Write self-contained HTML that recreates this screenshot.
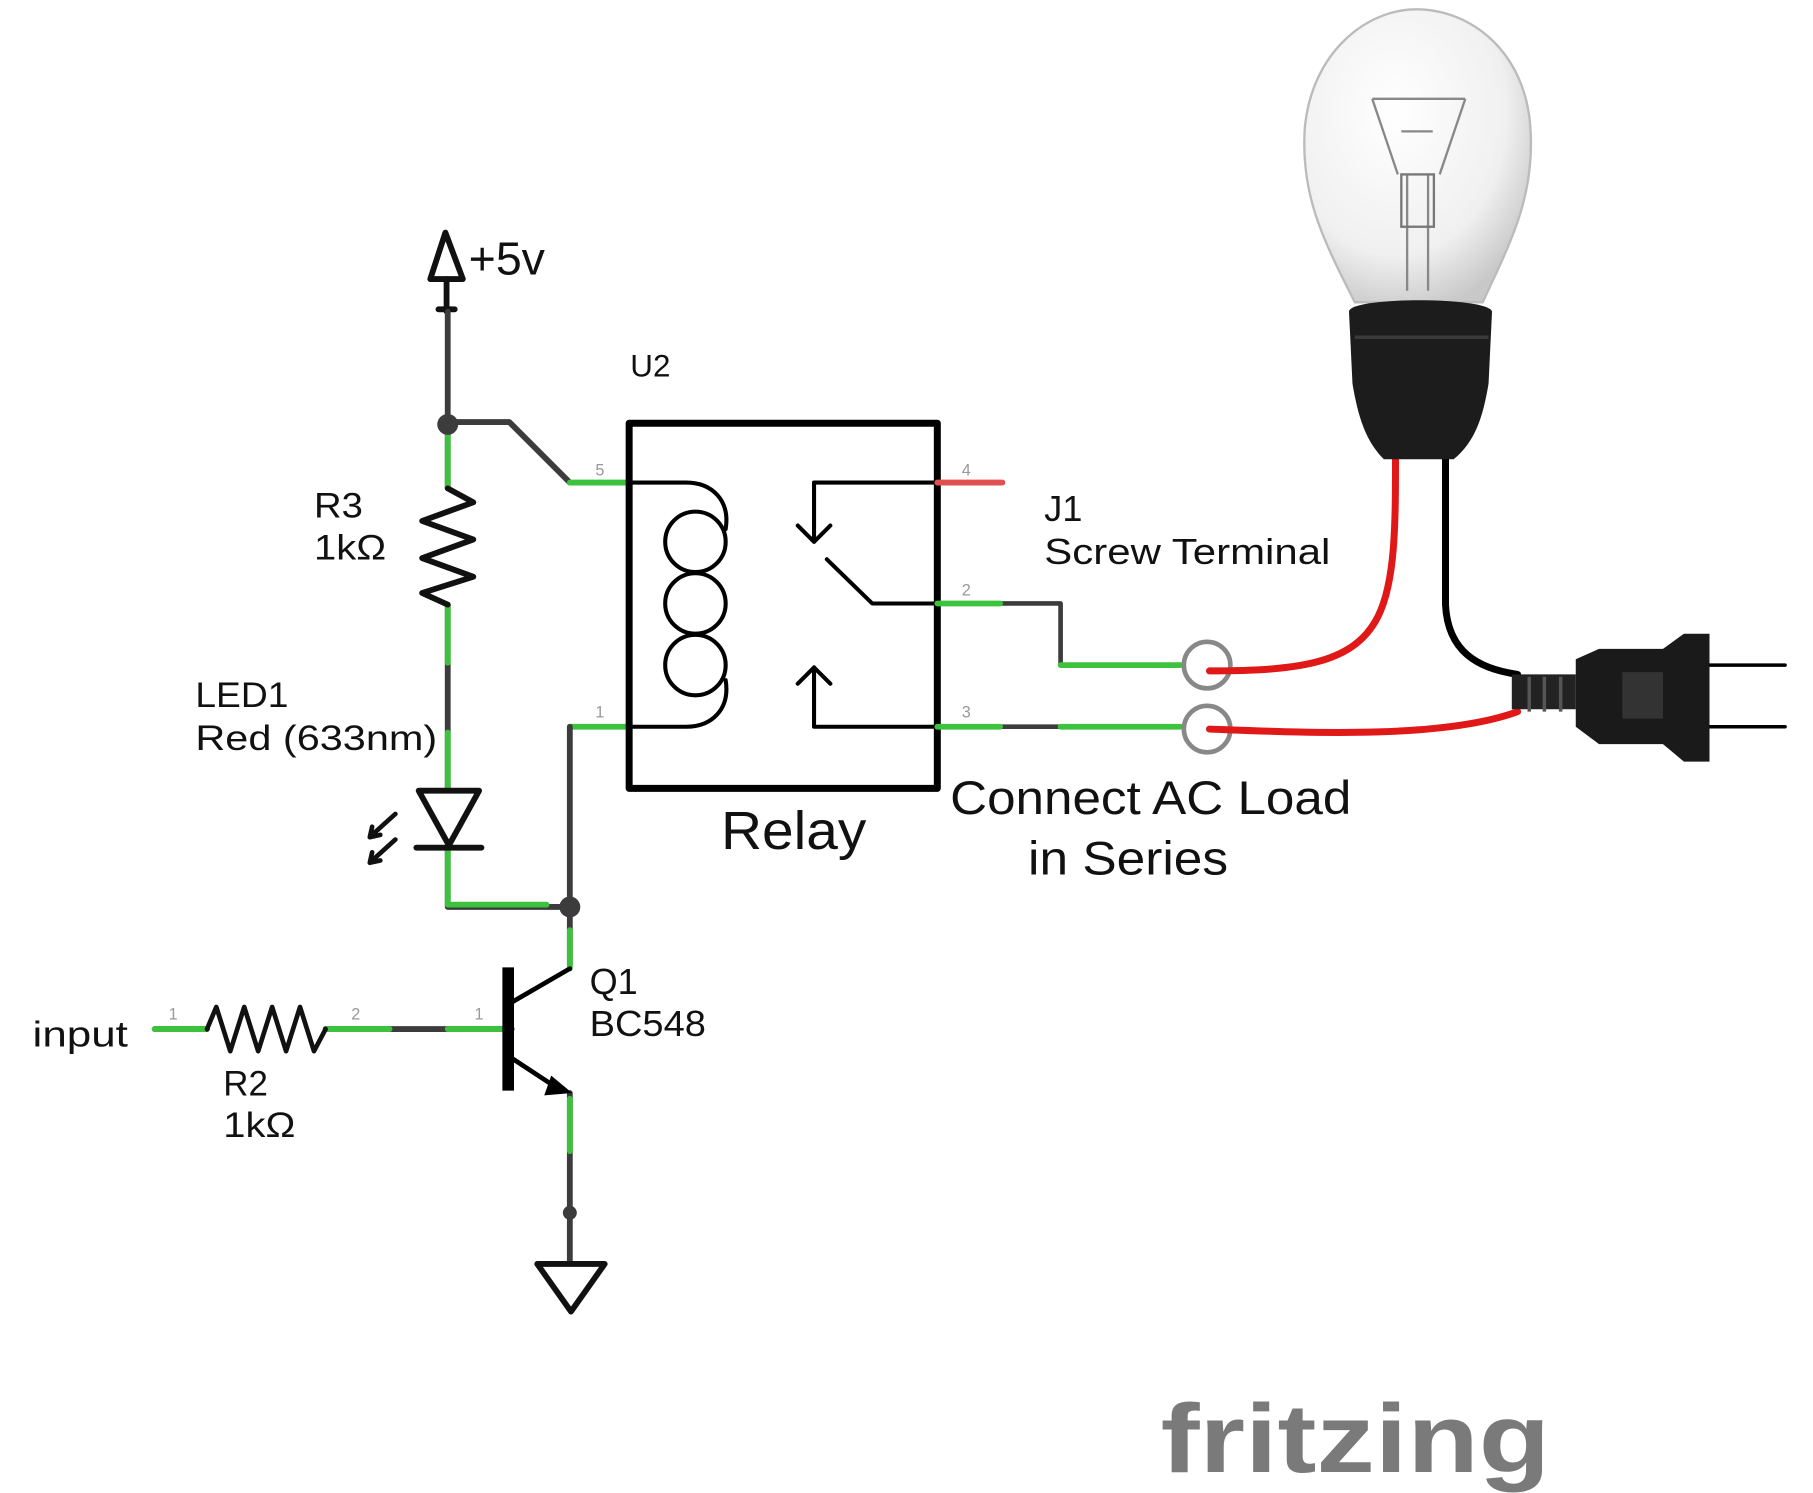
<!DOCTYPE html>
<html><head><meta charset="utf-8"><style>
html,body{margin:0;padding:0;background:#fff;width:1813px;height:1493px;overflow:hidden}
svg{display:block}
text{font-family:"Liberation Sans","DejaVu Sans",sans-serif;fill:#111}
</style></head><body>
<svg width="1813" height="1493" viewBox="0 0 1559 1284" preserveAspectRatio="none" xmlns="http://www.w3.org/2000/svg">
<defs>
<radialGradient id="glass" cx="0.4" cy="0.35" r="0.7"><stop offset="0" stop-color="#ffffff"/><stop offset="0.7" stop-color="#f0f0f0"/><stop offset="1" stop-color="#c8c8c8"/></radialGradient>
</defs>
<g fill="none" stroke-linecap="round" stroke-linejoin="round">
<path d="M383,200 L370,240 L398,240 Z" stroke="#111" stroke-width="5"/>
<path d="M384,240 V268 M377,266 H391" stroke="#111" stroke-width="5"/>
<path d="M385,268 V365 M385,363 H438 L490,415" stroke="#3c3c3c" stroke-width="5"/>
<path d="M385,368 V420 M385,520 V680 M385,728 V780 H490" stroke="#3c3c3c" stroke-width="5"/>
<path d="M385,368 V420 M385,520 V570 M385,630 V678 M385,732 V778 H470" stroke="#3cc23c" stroke-width="5"/>
<path d="M385,420 L407,432 L363,448 L407,464 L363,480 L407,496 L363,510 L385,520" stroke="#111" stroke-width="5"/>
<path d="M360,680 H412 L386,727 Z" stroke="#111" stroke-width="5"/>
<path d="M358,729 H414" stroke="#111" stroke-width="5"/>
<path d="M340,700 L320,718 M318,720 l2,-9 M318,720 l9,-2 M340,722 L320,740 M318,742 l2,-9 M318,742 l9,-2" stroke="#111" stroke-width="4"/>
<path d="M490,415 H540" stroke="#3cc23c" stroke-width="5"/>
<path d="M490,625 H540" stroke="#3cc23c" stroke-width="5"/>
<path d="M490,625 V780 V830" stroke="#3c3c3c" stroke-width="5"/>
<path d="M490,800 V833" stroke="#3cc23c" stroke-width="5"/>
<rect x="541" y="364" width="265" height="314" stroke="#000" stroke-width="6"/>
<path d="M540,415 H590 C612,415 628,430 624,455 M540,625 H590 C612,625 628,610 624,585" stroke="#000" stroke-width="3.5"/>
<circle cx="598" cy="466" r="26" stroke="#000" stroke-width="3.5"/>
<circle cx="598" cy="519" r="26" stroke="#000" stroke-width="3.5"/>
<circle cx="598" cy="572" r="26" stroke="#000" stroke-width="3.5"/>
<path d="M806,415 H700 V466 M686,452 L700,466 L714,452" stroke="#000" stroke-width="3.5"/>
<path d="M711,481 L750,519 H806" stroke="#000" stroke-width="3.5"/>
<path d="M806,625 H700 V574 M686,588 L700,574 L714,588" stroke="#000" stroke-width="3.5"/>
<path d="M806,415 H862" stroke="#e05050" stroke-width="5"/>
<path d="M806,519 H912 V572 H1015 M806,625 H1016" stroke="#3c3c3c" stroke-width="4"/>
<path d="M806,519 H860 M912,572 H1015 M806,625 H860 M912,625 H1015" stroke="#3cc23c" stroke-width="5"/>
<circle cx="1038" cy="572" r="20" stroke="#888" stroke-width="4"/>
<circle cx="1038" cy="627" r="20" stroke="#888" stroke-width="4"/>
<path d="M133,885 H178 M280,885 H440" stroke="#3c3c3c" stroke-width="5"/>
<path d="M133,885 H176 M282,885 H335 M385,885 H435" stroke="#3cc23c" stroke-width="5"/>
<path d="M178,885 L186,866 L198,904 L210,866 L222,904 L234,866 L246,904 L258,866 L270,904 L280,885" stroke="#111" stroke-width="4"/>
<path d="M437,832 V938" stroke="#000" stroke-width="10" stroke-linecap="butt"/>
<path d="M440,862 L490,833 M440,910 L478,935" stroke="#000" stroke-width="4"/>
<path d="M490,940 V1085" stroke="#3c3c3c" stroke-width="5"/>
<path d="M490,945 V990" stroke="#3cc23c" stroke-width="5"/>
<path d="M462,1087 H520 L491,1128 Z" stroke="#111" stroke-width="5"/>
<path d="M1040,577 C1120,577 1165,570 1185,530 C1200,500 1200,450 1200,392" stroke="#e01818" stroke-width="6"/>
<path d="M1040,627 C1120,630 1240,636 1305,612" stroke="#e01818" stroke-width="6"/>
<path d="M1243,395 V520 C1245,560 1270,575 1305,580" stroke="#000" stroke-width="6"/>
<path d="M1470,572 H1535 M1470,625 H1535" stroke="#000" stroke-width="3"/>
</g>
<circle cx="385" cy="365" r="9" fill="#3c3c3c"/>
<circle cx="490" cy="780" r="9" fill="#3c3c3c"/>
<circle cx="490" cy="1043" r="6" fill="#3c3c3c"/>
<path d="M474,925 L492,940 L468,942 Z" fill="#000"/>
<path d="M1165,260 C1140,210 1118,170 1122,110 C1128,45 1175,8 1218,8 C1265,8 1312,45 1316,110 C1320,170 1298,210 1275,260 Z" fill="url(#glass)" stroke="#bbb" stroke-width="2"/>
<path d="M1180,85 L1202,150 M1260,85 L1238,150 M1180,85 H1260 M1205,113 H1232 M1210,150 V250 M1228,150 V250" stroke="#888" stroke-width="2" fill="none"/>
<rect x="1205" y="150" width="28" height="45" fill="none" stroke="#777" stroke-width="2"/>
<path d="M1160,268 C1160,255 1280,255 1283,268 L1280,330 C1275,360 1268,380 1250,395 H1190 C1175,380 1168,360 1163,330 Z" fill="#1c1c1c"/>
<path d="M1165,290 H1280" stroke="#3a3a3a" stroke-width="3"/>
<path d="M1300,580 H1355 V610 H1300 Z" fill="#222"/>
<path d="M1355,567 L1375,558 H1430 L1448,545 H1470 V655 H1448 L1430,640 H1375 L1355,625 Z" fill="#1a1a1a"/>
<rect x="1395" y="578" width="35" height="40" fill="#333"/>
<path d="M1315,582 V612 M1328,582 V612 M1342,582 V612" stroke="#555" stroke-width="3"/>
<g lengthAdjust="spacingAndGlyphs">
<text x="403" y="236" font-size="40">+5v</text>
<text x="542" y="324" font-size="27">U2</text>
<text x="270" y="445" font-size="30" textLength="42" lengthAdjust="spacingAndGlyphs">R3</text>
<text x="270" y="481" font-size="30" textLength="62" lengthAdjust="spacingAndGlyphs">1kΩ</text>
<text x="168" y="608" font-size="30" textLength="80" lengthAdjust="spacingAndGlyphs">LED1</text>
<text x="168" y="645" font-size="30" textLength="208" lengthAdjust="spacingAndGlyphs">Red (633nm)</text>
<text x="620" y="730" font-size="46" textLength="125" lengthAdjust="spacingAndGlyphs">Relay</text>
<text x="898" y="448" font-size="31">J1</text>
<text x="898" y="485" font-size="31" textLength="246" lengthAdjust="spacingAndGlyphs">Screw Terminal</text>
<text x="817" y="700" font-size="41" textLength="345" lengthAdjust="spacingAndGlyphs">Connect AC Load</text>
<text x="884" y="752" font-size="41" textLength="172" lengthAdjust="spacingAndGlyphs">in Series</text>
<text x="507" y="855" font-size="31">Q1</text>
<text x="507" y="891" font-size="31" textLength="100" lengthAdjust="spacingAndGlyphs">BC548</text>
<text x="28" y="900" font-size="31" textLength="82" lengthAdjust="spacingAndGlyphs">input</text>
<text x="192" y="942" font-size="30">R2</text>
<text x="192" y="978" font-size="30" textLength="62" lengthAdjust="spacingAndGlyphs">1kΩ</text>
</g>
<g font-size="14">
<text x="512" y="409" style="fill:#999">5</text><text x="512" y="617" style="fill:#999">1</text>
<text x="827" y="409" style="fill:#999">4</text><text x="827" y="512" style="fill:#999">2</text><text x="827" y="617" style="fill:#999">3</text>
<text x="145" y="877" style="fill:#999">1</text><text x="302" y="877" style="fill:#999">2</text><text x="408" y="877" style="fill:#999">1</text>
</g>
<text x="998" y="1266" font-size="84" font-weight="bold" textLength="335" lengthAdjust="spacingAndGlyphs" style="fill:#7a7a7a">fritzing</text>
</svg>
</body></html>
